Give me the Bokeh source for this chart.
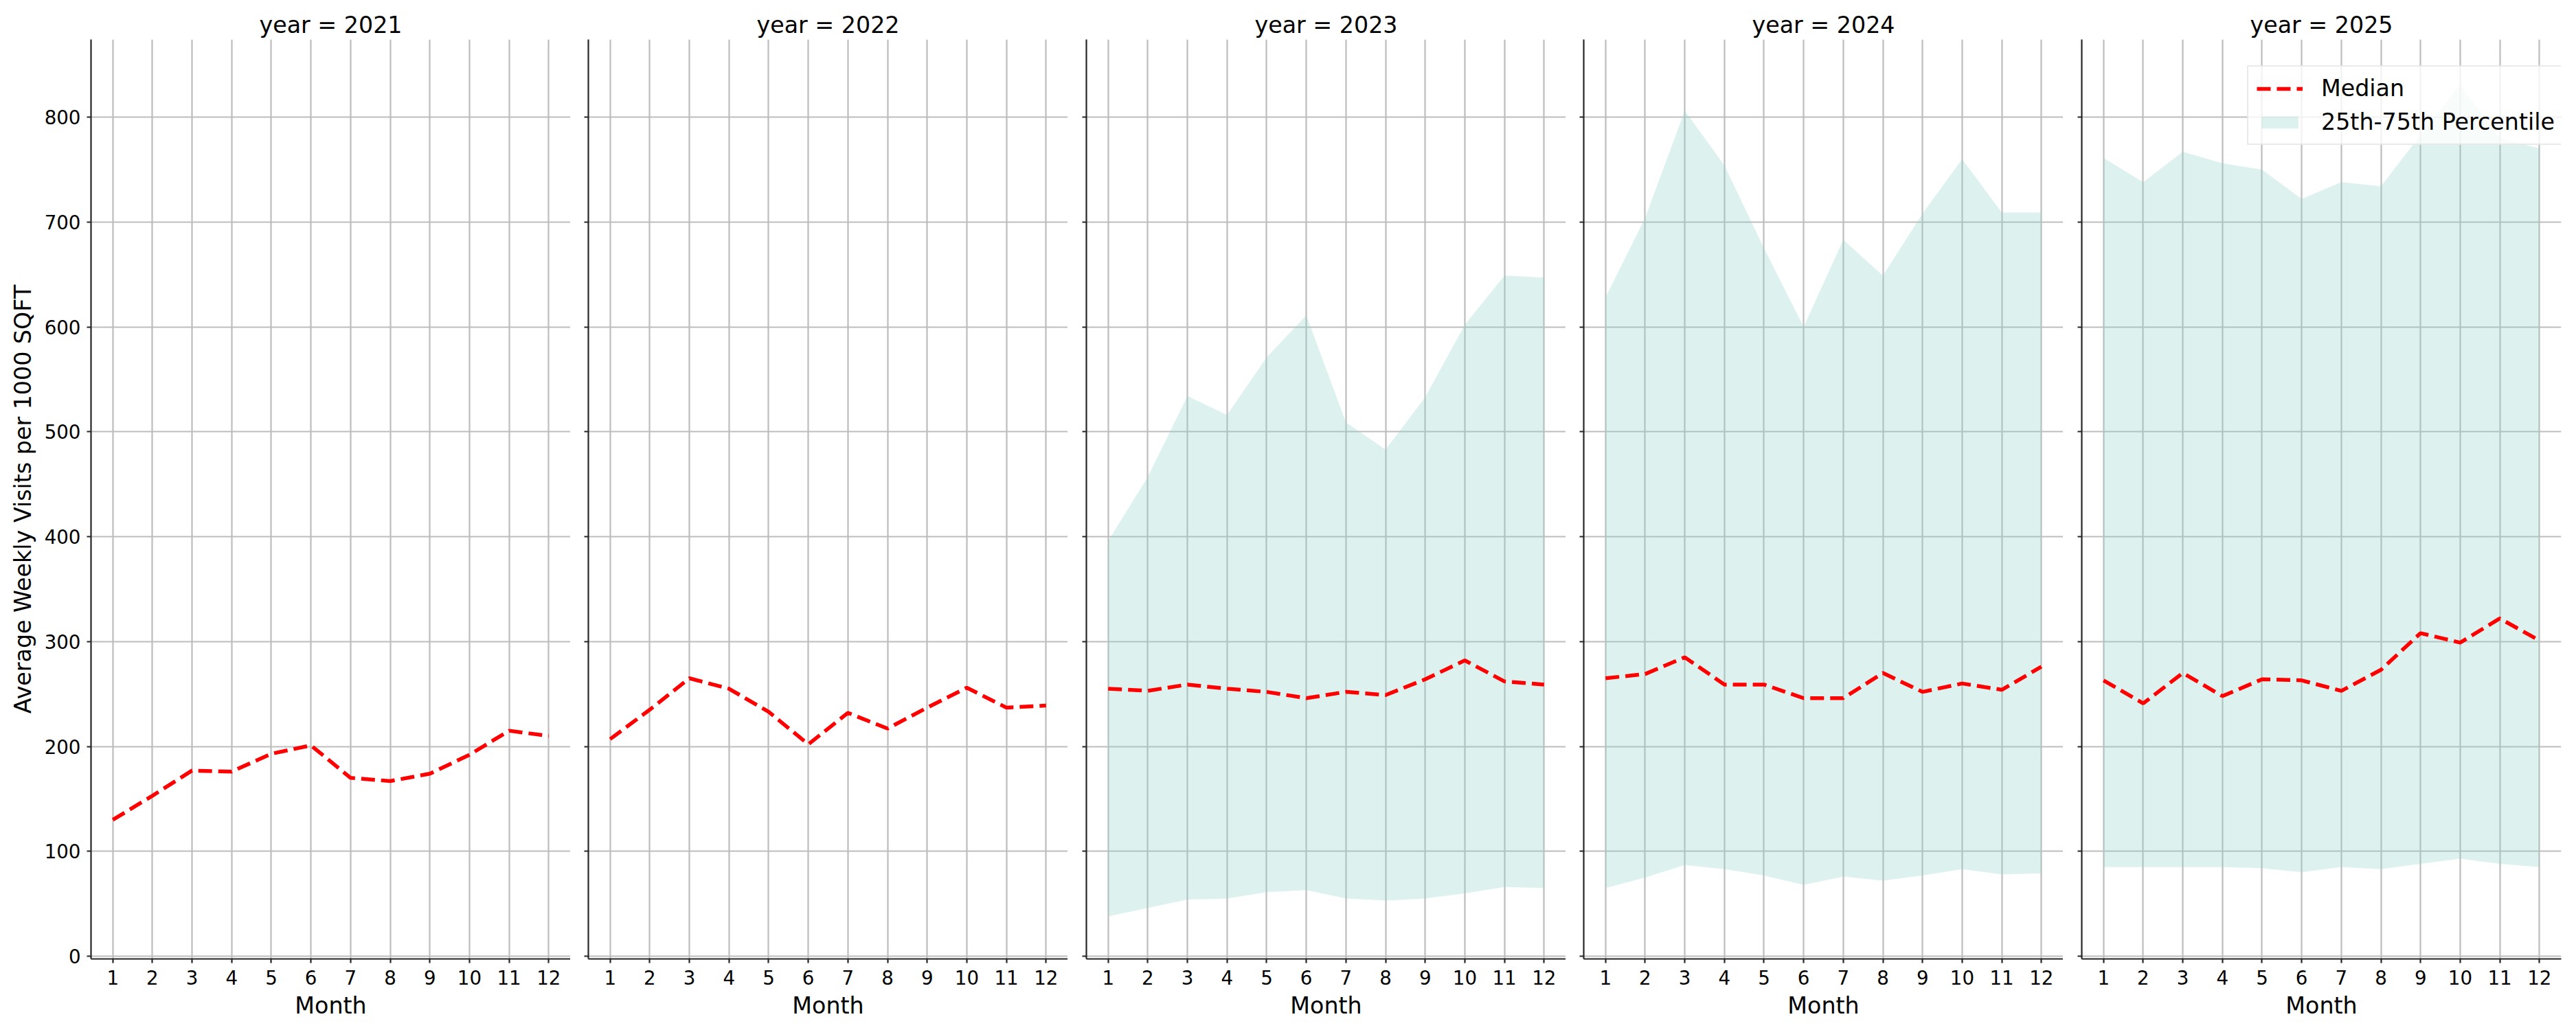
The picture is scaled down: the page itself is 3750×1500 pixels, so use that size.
from bokeh.plotting import figure
from bokeh.layouts import row
from bokeh.models import Range1d, FixedTicker, CustomJSTickFormatter, Legend, LegendItem
from bokeh.embed import file_html
from bokeh.resources import INLINE

# ---------------- data ----------------
months = [1, 2, 3, 4, 5, 6, 7, 8, 9, 10, 11, 12]
years = [2021, 2022, 2023, 2024, 2025]
y_ticks = [0, 100, 200, 300, 400, 500, 600, 700, 800]

median_2021 = [130, 153, 177, 176, 193, 201, 170, 167, 174, 192, 215, 210]
median_2022 = [207, 235, 265, 255, 233, 202, 232, 217, 237, 256, 237, 239]
median_2023 = [255, 253, 259, 255, 252, 246, 252, 249, 264, 282, 262, 259]
median_2024 = [265, 269, 285, 259, 259, 246, 246, 270, 252, 260, 254, 276]
median_2025 = [263, 241, 270, 248, 264, 263, 253, 273, 308, 299, 322, 301]

lower_2023 = [38, 46, 54, 55, 61, 63, 55, 53, 55, 60, 66, 65]
upper_2023 = [396, 457, 534, 516, 571, 611, 509, 483, 533, 602, 649, 647]
lower_2024 = [65, 75, 87, 83, 77, 68, 76, 72, 77, 83, 78, 79]
upper_2024 = [628, 704, 806, 754, 675, 600, 683, 649, 708, 760, 709, 709]
lower_2025 = [85, 85, 85, 85, 84, 80, 85, 83, 88, 93, 88, 85]
upper_2025 = [761, 738, 767, 756, 750, 722, 738, 734, 783, 831, 780, 770]

medians = {2021: median_2021, 2022: median_2022, 2023: median_2023,
           2024: median_2024, 2025: median_2025}
lowers = {2023: lower_2023, 2024: lower_2024, 2025: lower_2025}
uppers = {2023: upper_2023, 2024: upper_2024, 2025: upper_2025}

# ---------------- style ----------------
FONT = "DejaVu Sans"
GRID = "#bdbdbd"
SPINE = "#262626"
FILL = "#8dd3c7"

y_range = Range1d(-2.6, 874)
lefts = [132, 26, 27, 26, 27]

figs = []
for i, yr in enumerate(years):
    p = figure(frame_width=698, frame_height=1339,
               min_border_left=lefts[i], min_border_right=(22 if i == 4 else 0),
               min_border_top=57, min_border_bottom=104,
               x_range=Range1d(0.45, 12.55), y_range=y_range,
               output_backend="svg", toolbar_location=None,
               title=f"year = {yr}")
    p.outline_line_color = None
    p.background_fill_color = "white"
    p.border_fill_color = "white"

    p.title.text_font = FONT
    p.title.text_font_size = "33.3px"
    p.title.text_font_style = "normal"
    p.title.text_color = "black"
    p.title.align = "center"
    p.title.standoff = 3

    band = None
    if yr in lowers:
        band = p.varea(x=months, y1=lowers[yr], y2=uppers[yr],
                       fill_color=FILL, fill_alpha=0.3)
    med = p.line(x=months, y=medians[yr], line_color="red",
                 line_width=5.5, line_dash="20 9")

    for ax in (p.xaxis[0], p.yaxis[0]):
        ax.axis_line_color = SPINE
        ax.axis_line_width = 2.2
        ax.major_tick_line_color = SPINE
        ax.major_tick_line_width = 2.2
        ax.major_tick_out = 6
        ax.major_tick_in = 0
        ax.minor_tick_line_color = None
        ax.major_label_text_font = FONT
        ax.major_label_text_font_size = "27.7px"
        ax.major_label_text_color = "black"
        ax.axis_label_text_font = FONT
        ax.axis_label_text_font_size = "33.3px"
        ax.axis_label_text_font_style = "normal"
        ax.axis_label_text_color = "black"

    p.xaxis.ticker = FixedTicker(ticks=months)
    p.xaxis.axis_label = "Month"
    p.xaxis.major_label_standoff = 10
    p.xaxis.axis_label_standoff = 8
    p.yaxis.ticker = FixedTicker(ticks=y_ticks)
    p.yaxis.major_label_standoff = 9
    if i == 0:
        p.yaxis.axis_label = "Average Weekly Visits per 1000 SQFT"
        p.yaxis.axis_label_standoff = 9
    else:
        p.yaxis.formatter = CustomJSTickFormatter(code="return ''")

    p.xgrid.ticker = FixedTicker(ticks=months)
    p.ygrid.ticker = FixedTicker(ticks=y_ticks)
    for g in (p.xgrid[0], p.ygrid[0]):
        g.grid_line_color = GRID
        g.grid_line_width = 2.2

    if i == 4:
        legend = Legend(items=[LegendItem(label="Median", renderers=[med]),
                               LegendItem(label="25th-75th Percentile", renderers=[band])],
                        location=(241, 1185))
        legend.label_text_font = FONT
        legend.label_text_font_size = "33.3px"
        legend.label_text_color = "black"
        legend.glyph_width = 67
        legend.glyph_height = 22
        legend.label_standoff = 27
        legend.padding = 12
        legend.spacing = 10
        legend.label_height = 38
        legend.border_line_color = "#d6d6d6"
        legend.border_line_width = 2
        legend.background_fill_color = "white"
        legend.background_fill_alpha = 0.8
        p.add_layout(legend)

    figs.append(p)

layout = row(*figs, spacing=0)
open("out.html", "w").write(file_html(layout, INLINE))
